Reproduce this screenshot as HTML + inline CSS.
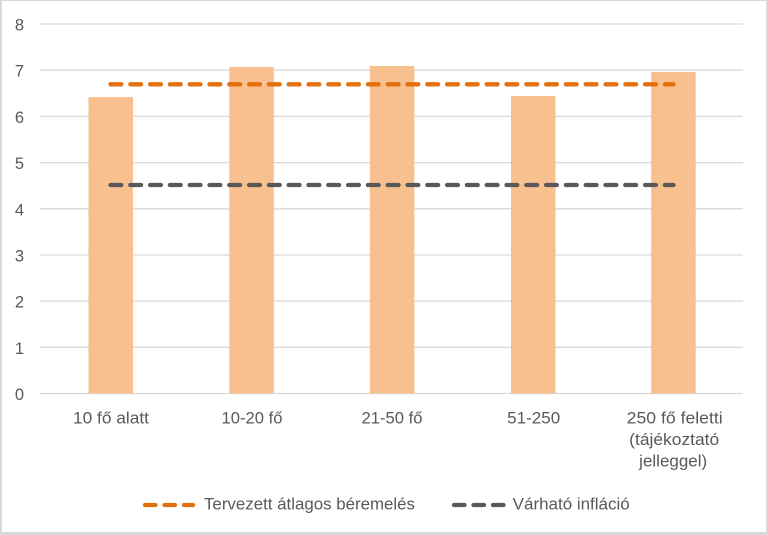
<!DOCTYPE html>
<html>
<head>
<meta charset="utf-8">
<style>
html,body{margin:0;padding:0;background:#fff;}
svg{display:block;}
text{font-family:"Liberation Sans",sans-serif;fill:#595959;}
</style>
</head>
<body>
<svg width="768" height="535" viewBox="0 0 768 535" xmlns="http://www.w3.org/2000/svg">
  <rect x="0" y="0" width="768" height="535" fill="#d9d9d9"/>
  <rect x="2" y="1" width="764" height="531" fill="#ffffff"/>

  <!-- gridlines -->
  <g stroke="#d9d9d9" stroke-width="1.3">
    <line x1="40" y1="24" x2="743" y2="24"/>
    <line x1="40" y1="70.2" x2="743" y2="70.2"/>
    <line x1="40" y1="116.4" x2="743" y2="116.4"/>
    <line x1="40" y1="162.6" x2="743" y2="162.6"/>
    <line x1="40" y1="208.8" x2="743" y2="208.8"/>
    <line x1="40" y1="255" x2="743" y2="255"/>
    <line x1="40" y1="301.1" x2="743" y2="301.1"/>
    <line x1="40" y1="347.3" x2="743" y2="347.3"/>
    <line x1="40" y1="393.5" x2="743" y2="393.5"/>
  </g>

  <!-- y tick labels -->
  <g font-size="16.5" text-anchor="end">
    <text x="24" y="30.5">8</text>
    <text x="24" y="76.7">7</text>
    <text x="24" y="122.9">6</text>
    <text x="24" y="169.1">5</text>
    <text x="24" y="215.3">4</text>
    <text x="24" y="261.5">3</text>
    <text x="24" y="307.6">2</text>
    <text x="24" y="353.8">1</text>
    <text x="24" y="400">0</text>
  </g>

  <!-- bars -->
  <g fill="#f8bf8f">
    <rect x="88.5" y="97" width="44.5" height="296.5"/>
    <rect x="229.3" y="67" width="44.5" height="326.5"/>
    <rect x="369.8" y="66" width="44.5" height="327.5"/>
    <rect x="511" y="96" width="44.5" height="297.5"/>
    <rect x="651.2" y="72" width="44.5" height="321.5"/>
  </g>

  <!-- lines -->
  <line x1="110.5" y1="84.3" x2="673.5" y2="84.3" stroke="#e4700d" stroke-width="4.3" stroke-linecap="round" stroke-dasharray="10.8 9"/>
  <line x1="110.5" y1="185" x2="673.5" y2="185" stroke="#595959" stroke-width="4.3" stroke-linecap="round" stroke-dasharray="10.8 9"/>

  <!-- category labels -->
  <g font-size="16.5" text-anchor="middle">
    <text x="111" y="423.3" textLength="76" lengthAdjust="spacingAndGlyphs">10 fő alatt</text>
    <text x="252" y="423.3" textLength="61" lengthAdjust="spacingAndGlyphs">10-20 fő</text>
    <text x="392" y="423.3" textLength="61" lengthAdjust="spacingAndGlyphs">21-50 fő</text>
    <text x="533.7" y="423.3" textLength="53" lengthAdjust="spacingAndGlyphs">51-250</text>
    <text x="674.7" y="423.3" textLength="96" lengthAdjust="spacingAndGlyphs">250 fő feletti</text>
    <text x="674.2" y="444.8" textLength="90" lengthAdjust="spacingAndGlyphs">(tájékoztató</text>
    <text x="673.2" y="466.3" textLength="68" lengthAdjust="spacingAndGlyphs">jelleggel)</text>
  </g>

  <!-- legend -->
  <line x1="145" y1="505" x2="193" y2="505" stroke="#e4700d" stroke-width="4.3" stroke-linecap="round" stroke-dasharray="10.5 9"/>
  <text x="204" y="509.5" font-size="16.5" textLength="211" lengthAdjust="spacingAndGlyphs">Tervezett átlagos béremelés</text>
  <line x1="454" y1="505" x2="503.5" y2="505" stroke="#595959" stroke-width="4.3" stroke-linecap="round" stroke-dasharray="10.5 9"/>
  <text x="512.7" y="509.5" font-size="16.5" textLength="117" lengthAdjust="spacingAndGlyphs">Várható infláció</text>
</svg>
</body>
</html>
